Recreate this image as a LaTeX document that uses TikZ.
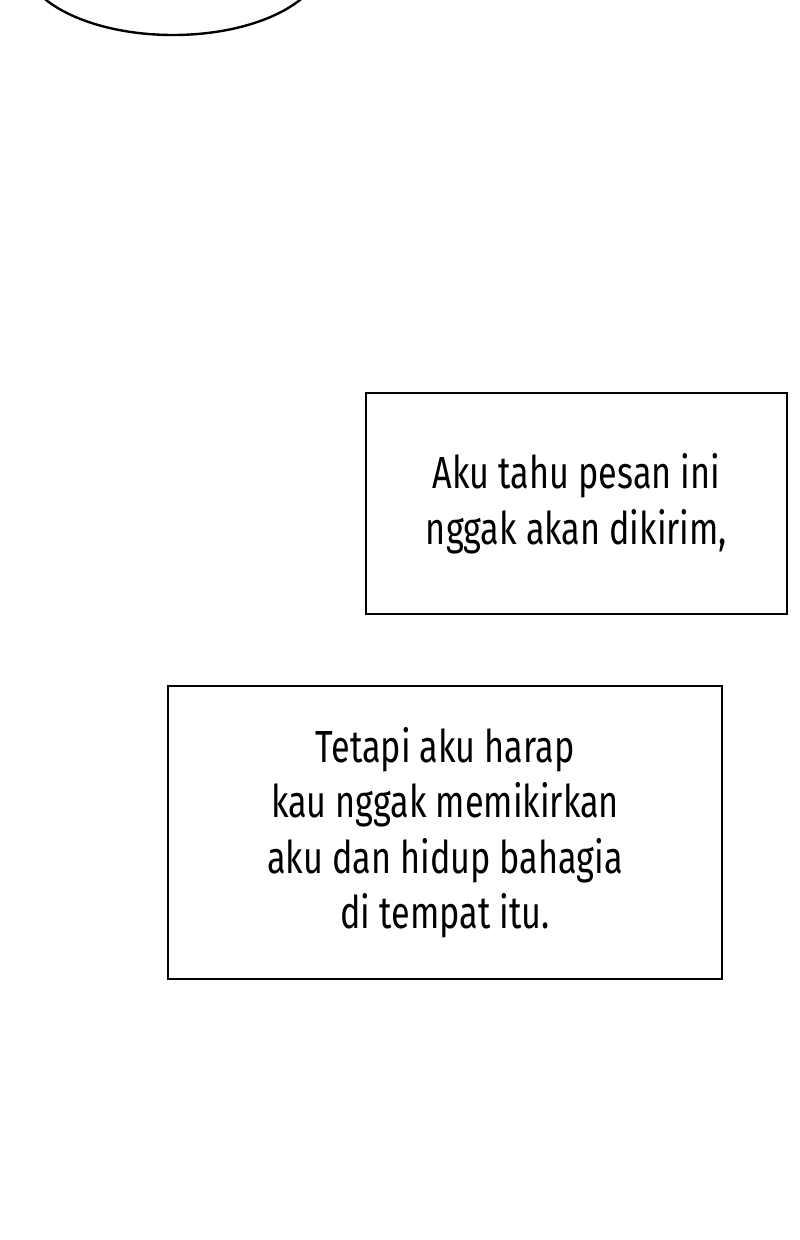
\documentclass[tikz,border=0pt]{standalone}
\usepackage{fontspec}
\setmainfont{Fira Sans}[FakeStretch=0.76]
\usetikzlibrary{positioning,shapes}

\begin{document}
\begin{tikzpicture}[box/.style={draw, line width=2pt, align=center, inner sep=0pt, font=\fontsize{45}{55.5}\selectfont}, bubble/.style={draw, ellipse, line width=2.4pt, inner sep=0pt}]
\useasboundingbox (0pt, 0pt) rectangle (800pt, -1240pt);
\clip (0pt, 0pt) rectangle (800pt, -1240pt);
\fill[white] (0pt, 0pt) rectangle (800pt, -1240pt);
\draw (173.0pt, 40.0pt)node[bubble, minimum width=300pt, minimum height=150pt](0){};
\draw (576.5pt, -503.5pt)node[box, minimum width=421pt, minimum height=221pt](1){Aku tahu pesan ini\\nggak akan dikirim,};
\draw (445.0pt, -832.5pt)node[box, minimum width=554pt, minimum height=293pt](2){Tetapi aku harap\\kau nggak memikirkan\\aku dan hidup bahagia\\di tempat itu.};
\end{tikzpicture}
\end{document}
